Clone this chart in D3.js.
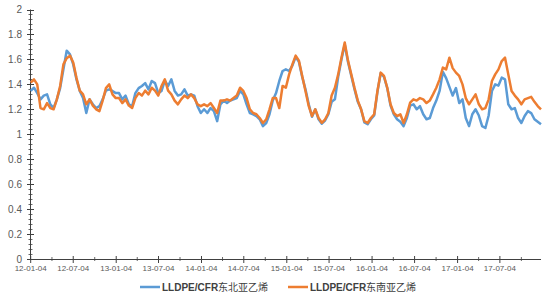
<!DOCTYPE html>
<html><head><meta charset="utf-8">
<script src="https://cdn.jsdelivr.net/npm/d3@7"></script>
<style>body{margin:0;background:#fff}svg{display:block}</style>
</head><body>
<svg id="c" width="550" height="300"></svg>
<script>
// Series (sampled every 14 days starting 2012-01-04)
const startDate = "2012-01-04";
const stepDays = 14;
const seriesNames = ["LLDPE/CFR东北亚乙烯", "LLDPE/CFR东南亚乙烯"];
const northeastAsia = [
1.347,1.373,1.33,1.28,1.31,1.32,1.24,1.21,1.28,1.37,1.52,1.67,1.64,1.56,1.44,1.347,1.29,1.17,1.28,1.24,1.21,1.225,1.28,1.35,1.36,1.347,1.33,
1.33,1.28,1.31,1.24,1.225,1.33,1.37,1.387,1.41,1.36,1.427,1.41,1.33,1.347,1.43,1.387,1.44,1.347,1.31,1.32,1.36,1.31,1.32,1.31,1.225,1.17,
1.20,1.17,1.21,1.185,1.105,1.24,1.27,1.25,1.27,1.28,1.29,1.347,1.32,1.24,1.17,1.16,1.146,1.12,1.065,1.09,1.16,1.27,1.33,1.427,1.507,1.52,
1.507,1.55,1.62,1.58,1.46,1.36,1.24,1.14,1.20,1.12,1.085,1.11,1.16,1.26,1.28,1.46,1.60,1.72,1.58,1.47,1.36,1.26,1.20,1.095,1.08,1.12,
1.15,1.34,1.49,1.46,1.37,1.23,1.16,1.12,1.10,1.065,1.13,1.23,1.24,1.20,1.225,1.16,1.12,1.13,1.21,1.27,1.347,1.50,1.45,1.38,1.31,1.37,1.25,
1.28,1.13,1.065,1.16,1.20,1.15,1.065,1.05,1.15,1.347,1.40,1.39,1.454,1.44,1.24,1.20,1.21,1.13,1.09,1.146,1.185,1.17,1.12,1.10,1.08
];
const southeastAsia = [
1.414,1.44,1.40,1.21,1.20,1.25,1.21,1.20,1.28,1.387,1.56,1.61,1.63,1.575,1.45,1.35,1.32,1.24,1.28,1.23,1.20,1.185,1.27,1.37,1.40,1.32,1.29,
1.29,1.25,1.28,1.23,1.21,1.29,1.33,1.31,1.35,1.32,1.373,1.35,1.31,1.387,1.44,1.35,1.32,1.27,1.24,1.28,1.31,1.29,1.32,1.29,1.24,1.225,
1.24,1.225,1.25,1.21,1.17,1.27,1.27,1.28,1.27,1.29,1.31,1.373,1.347,1.29,1.20,1.17,1.16,1.13,1.09,1.12,1.20,1.29,1.29,1.21,1.387,1.373,
1.48,1.56,1.63,1.59,1.467,1.347,1.225,1.146,1.20,1.13,1.092,1.12,1.17,1.31,1.373,1.48,1.614,1.735,1.59,1.48,1.37,1.27,1.20,1.105,1.09,1.13,
1.16,1.347,1.494,1.467,1.373,1.24,1.17,1.146,1.16,1.09,1.16,1.253,1.28,1.27,1.29,1.28,1.25,1.27,1.32,1.373,1.44,1.534,1.52,1.614,1.53,1.494,1.467,
1.40,1.29,1.24,1.28,1.32,1.24,1.20,1.21,1.28,1.427,1.48,1.52,1.587,1.614,1.48,1.347,1.31,1.28,1.24,1.28,1.29,1.30,1.26,1.226,1.20
];
const yTicks = [0,0.2,0.4,0.6,0.8,1,1.2,1.4,1.6,1.8,2];
const xTickLabels = ["12-01-04","12-07-04","13-01-04","13-07-04","14-01-04","14-07-04","15-01-04","15-07-04","16-01-04","16-07-04","17-01-04","17-07-04"];
const minorXTicks = ["12-04-04","12-10-04","13-04-04","13-10-04","14-04-04","14-10-04","15-04-04","15-10-04","16-04-04","16-10-04","17-04-04","17-10-04"];
const colors = ["#5B9BD5", "#ED7D31"];

const parse = d3.timeParse("%Y-%m-%d");
const parseTick = d3.timeParse("%y-%m-%d");
const t0 = parse(startDate);
const dates = northeastAsia.map((_, i) => d3.timeDay.offset(t0, i * stepDays));

const svg = d3.select("#c");
const x = d3.scaleTime().domain([t0, dates[dates.length - 1]]).range([30.7, 541]);
const y = d3.scaleLinear().domain([0, 2]).range([259, 9.5]);

const axisColor = "#404040";
const labelColor = "#595959";

// y axis
const yAxisG = svg.append("g");
yAxisG.append("line").attr("x1", 30.5).attr("x2", 30.5).attr("y1", y(0)).attr("y2", y(2)).attr("stroke", axisColor).attr("stroke-width", 1);
const yMinor = d3.range(0, 2.0001, 0.04);
yAxisG.selectAll(".ym").data(yMinor).join("line")
  .attr("x1", 28.5).attr("x2", 32.5)
  .attr("y1", d => Math.round(y(d)) + 0.5).attr("y2", d => Math.round(y(d)) + 0.5)
  .attr("stroke", axisColor).attr("stroke-width", 0.8);
yAxisG.selectAll(".yM").data(yTicks).join("line")
  .attr("x1", 27).attr("x2", 34)
  .attr("y1", d => Math.round(y(d)) + 0.5).attr("y2", d => Math.round(y(d)) + 0.5)
  .attr("stroke", axisColor).attr("stroke-width", 1);
yAxisG.selectAll("text").data(yTicks).join("text")
  .attr("x", 22).attr("y", d => y(d)).attr("dy", "0.35em")
  .attr("text-anchor", "end").attr("fill", labelColor)
  .attr("font-family", "Liberation Sans, Arial, sans-serif").attr("font-size", 10)
  .text(d => d3.format("")(d));

// x axis
const xAxisG = svg.append("g");
xAxisG.append("line").attr("x1", 30.5).attr("x2", 541).attr("y1", 259.5).attr("y2", 259.5).attr("stroke", axisColor);
xAxisG.selectAll(".xm").data(minorXTicks.map(parseTick)).join("line")
  .attr("x1", d => x(d)).attr("x2", d => x(d)).attr("y1", 257).attr("y2", 261)
  .attr("stroke", axisColor).attr("stroke-width", 0.8);
xAxisG.selectAll(".xM").data(xTickLabels.map(parseTick)).join("line")
  .attr("x1", d => x(d)).attr("x2", d => x(d)).attr("y1", 256).attr("y2", 263)
  .attr("stroke", axisColor).attr("stroke-width", 1);
xAxisG.selectAll("text").data(xTickLabels).join("text")
  .attr("x", d => x(parseTick(d))).attr("y", 271)
  .attr("text-anchor", "middle").attr("fill", labelColor)
  .attr("font-family", "Liberation Sans, Arial, sans-serif").attr("font-size", 8)
  .text(d => d);

// lines
const line = d3.line().x((d, i) => x(dates[i])).y(d => y(d)).curve(d3.curveLinear);
[northeastAsia, southeastAsia].forEach((s, k) => {
  svg.append("path").datum(s).attr("d", line)
    .attr("fill", "none").attr("stroke", colors[k]).attr("stroke-width", 2.5)
    .attr("stroke-linejoin", "round");
});

// legend
const legendX = [140, 288];
seriesNames.forEach((name, k) => {
  const g = svg.append("g").attr("transform", `translate(${legendX[k]},287)`);
  g.append("line").attr("x1", 0).attr("x2", 20).attr("y1", 0).attr("y2", 0)
    .attr("stroke", colors[k]).attr("stroke-width", 2.5);
  const t = g.append("text").attr("x", 22).attr("y", 0).attr("dy", "0.35em")
    .attr("fill", "#404040").attr("font-size", 10);
  const m = name.match(/^([A-Za-z\/]+)(.*)$/);
  t.append("tspan").attr("font-family", "Liberation Sans, Arial, sans-serif").attr("font-weight", "bold").text(m[1]);
  t.append("tspan").attr("font-family", "Noto Sans CJK SC, sans-serif").text(m[2]);
});
</script>
</body></html>
